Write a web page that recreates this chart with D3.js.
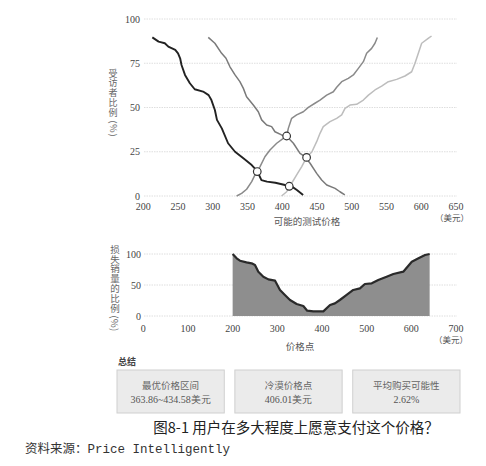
<!DOCTYPE html>
<html><head><meta charset="utf-8">
<script src="https://cdn.jsdelivr.net/npm/d3@7"></script>
<style>
html,body{margin:0;padding:0;background:#fff;}
svg{display:block;}
</style></head>
<body>
<svg id="c" width="486" height="466"></svg>
<script>
// ---- data ----
const topXTicks = [200,250,300,350,400,450,500,550,600,650];
const topYTicks = [0,25,50,75,100];
const tooCheapX = [213,222,231,236,246,250,253,255,260,267,274,286,294,298,303,306,313,322,332,344,356,364,370,378,390,404,414,421,430];
const tooCheapY = [89.6,87.2,86.3,84.4,82.5,80.6,77.8,74,68.4,63.7,60.3,59,57,54.2,48.6,43,38.2,29.8,25,21.3,17.5,14,9,8.1,7.5,6.2,5.3,3.4,0.6];
const cheapX = [293.5,303,312.7,319,324.7,332,339,344,348.6,358.3,365.5,370.3,377.5,384.7,389.5,399,406.3,416,425.5,432.7,440,449.5,456.7,464,476,483,490];
const cheapY = [89.6,86.3,80.6,77.8,73,68.4,64.6,60.8,56.1,51.4,47.6,43,40.1,39.2,36.3,34.5,33.8,29.8,24.1,22.2,18.5,12.8,9,6.2,4.3,2.4,0.6];
const expensiveX = [334.3,341.5,348.7,356,360.7,364,368,375,382.3,392,401.5,406.3,408.7,413.5,420.7,430.3,437.5,447,454.3,463.9,473.5,478.3,485.5,495,502.3,509.5,516.7,521.4,528.6,533.4,536.8];
const expensiveY = [0,1.5,3.8,8.1,11.9,13.8,16.6,22.2,26,29.8,32.6,33.9,38.2,43.9,45.8,47.6,50.1,52.4,54.2,57,58.9,61.4,64.6,66.5,68.4,72.1,75.9,80.6,83.4,86.3,89.6];
const tooExpX = [399,406.3,410,413.5,420.7,428,435,442.7,449.5,454.3,459,468.7,478.3,485.5,490.3,497.5,507,516.7,524,533.4,543,552.6,564.6,576.6,586.2,591,595.8,600.6,610,614.8];
const tooExpY = [0,2.4,5.5,7.2,11.9,16.6,21.8,25,30.7,35.4,39.2,42,43.9,45.8,49.5,51.4,51.8,54.2,57,59.9,62.1,64.6,65.9,67.8,70.2,75,80.6,86.3,89,90.4];
const crossX = [364,406.3,435,410];
const crossY = [13.8,33.9,21.8,5.5];

const botXTicks = [0,100,200,300,400,500,600,700];
const botYTicks = [0,50,100];
const lostX = [200,209,216.4,231,242.5,250,257.5,268.7,280,295,306,317,328.4,343.3,358.2,367,380.6,403,418,429,440,455.2,470,485,496,511.4,526,544.7,559.7,582,601,616,630.7,641];
const lostY = [100,93,89.2,86.6,85,82.3,71.5,63.4,59.1,57,42,33.9,25.8,19.4,16.1,8.6,7.5,7.5,17.7,20.4,25.8,33.9,42,44.6,51.6,52.7,58,63.4,67.7,71.5,87.6,93,98.4,100];

const topYTitle = "受访者比例 (%)";
const botYTitle = "损失销量的比例 (%)";
const summaryTitle = "总结";
const summaryLabels = ["最优价格区间","冷漠价格点","平均购买可能性"];
const summaryValues = ["363.86~434.58美元","406.01美元","2.62%"];
const caption = "图8-1 用户在多大程度上愿意支付这个价格？";
const source = "资料来源：Price Intelligently";

// ---- drawing ----
const svg = d3.select("#c");
const serif = "'Liberation Serif','DejaVu Serif',serif";
const cjk = "'Noto Sans CJK SC',sans-serif";

// top chart
const xT = d3.scaleLinear().domain([200,650]).range([143.3,456]);
const yT = d3.scaleLinear().domain([0,100]).range([196,19]);
const gT = svg.append("g");
gT.selectAll("line.grid").data(topYTicks).join("line")
  .attr("x1",144).attr("x2",457).attr("y1",d=>yT(d)).attr("y2",d=>yT(d))
  .attr("stroke","#d6d6d6").attr("stroke-width",0.8).attr("stroke-dasharray","1.5,1");
gT.selectAll("text.yt").data(topYTicks).join("text")
  .attr("x",140).attr("y",d=>yT(d)).attr("dy","0.35em").attr("text-anchor","end")
  .attr("font-family",serif).attr("font-size",10).attr("fill","#444").text(d=>d);
gT.selectAll("text.xt").data(topXTicks).join("text")
  .attr("x",d=>xT(d)).attr("y",206).attr("dy","0.35em").attr("text-anchor","middle")
  .attr("font-family",serif).attr("font-size",10).attr("fill","#444").text(d=>d);
gT.append("text").attr("x",452).attr("y",218).attr("dy","0.35em").attr("text-anchor","middle")
  .attr("font-family",cjk).attr("font-size",8.5).attr("fill","#555").text("（美元）");
gT.append("text").attr("x",307).attr("y",222).attr("dy","0.35em").attr("text-anchor","middle")
  .attr("font-family",cjk).attr("font-size",9.5).attr("fill","#555").text("可能的测试价格");
gT.append("text").attr("x",113).attr("y",103).attr("text-anchor","middle")
  .style("writing-mode","vertical-rl").style("text-orientation","mixed")
  .attr("letter-spacing",0.8)
  .attr("font-family",cjk).attr("font-size",9).attr("fill","#666").text(topYTitle);

const line = d3.line().x(d=>xT(d[0])).y(d=>yT(d[1]));
const series = [
  {x:tooExpX,y:tooExpY,c:"#bdbdbd",w:1.5},
  {x:expensiveX,y:expensiveY,c:"#8a8a8a",w:1.5},
  {x:cheapX,y:cheapY,c:"#7a7a7a",w:1.5},
  {x:tooCheapX,y:tooCheapY,c:"#222",w:1.9}
];
series.forEach(s=>{
  gT.append("path").datum(s.x.map((v,i)=>[v,s.y[i]])).attr("d",line)
    .attr("fill","none").attr("stroke",s.c).attr("stroke-width",s.w).attr("stroke-linejoin","round");
});
gT.selectAll("circle").data(crossX.map((v,i)=>[v,crossY[i]])).join("circle")
  .attr("cx",d=>xT(d[0])).attr("cy",d=>yT(d[1])).attr("r",3.8)
  .attr("fill","#fff").attr("stroke","#333").attr("stroke-width",1.2);

// bottom chart
const xB = d3.scaleLinear().domain([0,700]).range([143.3,456]);
const yB = d3.scaleLinear().domain([0,100]).range([316,254]);
const gB = svg.append("g");
gB.selectAll("line.grid").data(botYTicks).join("line")
  .attr("x1",144).attr("x2",457).attr("y1",d=>yB(d)).attr("y2",d=>yB(d))
  .attr("stroke","#d6d6d6").attr("stroke-width",0.8).attr("stroke-dasharray","1.5,1");
const lostPts = lostX.map((v,i)=>[v,lostY[i]]);
gB.append("path").datum(lostPts)
  .attr("d",d3.area().x(d=>xB(d[0])).y0(yB(0)).y1(d=>yB(d[1])))
  .attr("fill","#8e8e8e");
gB.append("path").datum(lostPts)
  .attr("d",d3.line().x(d=>xB(d[0])).y(d=>yB(d[1])))
  .attr("fill","none").attr("stroke","#2a2a2a").attr("stroke-width",2.2).attr("stroke-linejoin","round");
gB.selectAll("text.yt").data(botYTicks).join("text")
  .attr("x",141).attr("y",d=>yB(d)).attr("dy","0.35em").attr("text-anchor","end")
  .attr("font-family",serif).attr("font-size",10).attr("fill","#444").text(d=>d);
gB.selectAll("text.xt").data(botXTicks).join("text")
  .attr("x",d=>xB(d)).attr("y",328).attr("dy","0.35em").attr("text-anchor","middle")
  .attr("font-family",serif).attr("font-size",10).attr("fill","#444").text(d=>d);
gB.append("text").attr("x",451).attr("y",340).attr("dy","0.35em").attr("text-anchor","middle")
  .attr("font-family",cjk).attr("font-size",8.5).attr("fill","#555").text("（美元）");
gB.append("text").attr("x",300).attr("y",347).attr("dy","0.35em").attr("text-anchor","middle")
  .attr("font-family",cjk).attr("font-size",9.5).attr("fill","#555").text("价格点");
gB.append("text").attr("x",115).attr("y",288).attr("text-anchor","middle")
  .style("writing-mode","vertical-rl").style("text-orientation","mixed")
  .attr("letter-spacing",0.3)
  .attr("font-family",cjk).attr("font-size",9.5).attr("fill","#666").text(botYTitle);

// summary
svg.append("text").attr("x",118).attr("y",362).attr("dy","0.35em")
  .attr("font-family",cjk).attr("font-size",9).attr("font-weight","bold").attr("fill","#444").text(summaryTitle);
const boxX = d3.scaleBand().domain(d3.range(summaryLabels.length)).range([117,460]).paddingInner(0.09);
const gS = svg.append("g");
summaryLabels.forEach((lab,i)=>{
  const x0 = boxX(i), w = boxX.bandwidth();
  gS.append("rect").attr("x",x0).attr("y",370).attr("width",w).attr("height",43)
    .attr("fill","#ebebeb").attr("stroke","#cfcfcf").attr("stroke-width",1);
  gS.append("text").attr("x",x0+w/2).attr("y",386).attr("dy","0.35em").attr("text-anchor","middle")
    .attr("font-family",cjk).attr("font-size",9.5).attr("fill","#666").text(lab);
  gS.append("text").attr("x",x0+w/2).attr("y",399).attr("dy","0.35em").attr("text-anchor","middle")
    .attr("font-family",serif).attr("font-size",10).attr("fill","#555").text(summaryValues[i]);
});

svg.append("text").attr("x",296).attr("y",428).attr("dy","0.35em").attr("text-anchor","middle")
  .attr("font-family",cjk).attr("font-size",14.5).attr("fill","#222").text(caption);
svg.append("text").attr("x",25).attr("y",449).attr("dy","0.35em")
  .attr("font-family","'Liberation Mono','Noto Sans CJK SC',monospace").attr("font-size",12.5).attr("fill","#333").text(source);
</script>
</body></html>
